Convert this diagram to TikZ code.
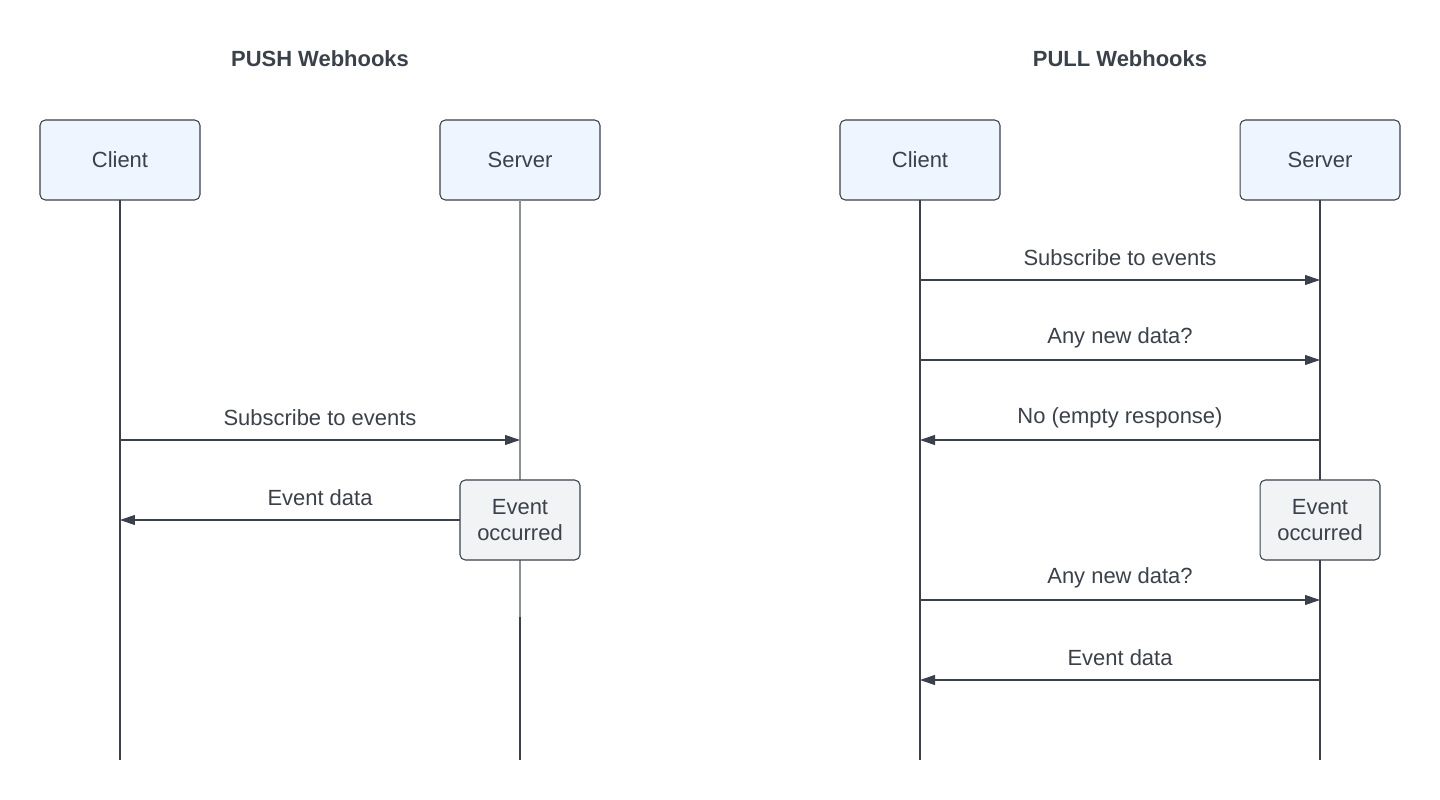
\documentclass[tikz,border=0pt]{standalone}
\usepackage{fontspec}
\setmainfont{Liberation Sans}
\usepackage{xcolor}
\usepackage{tikz}
\usetikzlibrary{arrows.meta, positioning, calc}
\definecolor{ink}{HTML}{3A414A}
\definecolor{lifegray}{HTML}{8C9198}
\definecolor{actorfill}{HTML}{EEF5FF}
\definecolor{eventfill}{HTML}{F2F3F5}

\begin{document}
\begin{tikzpicture}[
  x=0.02cm, y=-0.02cm,
  every node/.style={text=ink, font=\fontsize{12.5}{15}\selectfont},
  actor/.style={draw=ink, line width=0.6pt, fill=actorfill, rounded corners=3pt,
                minimum width=3.2cm, minimum height=1.6cm, inner sep=0pt, outer sep=0pt},
  event/.style={draw=ink, line width=0.6pt, fill=eventfill, rounded corners=3pt,
                minimum width=2.4cm, minimum height=1.6cm, inner sep=0pt, outer sep=0pt,
                align=center},
  title/.style={font=\fontsize{12.5}{15}\selectfont\bfseries},
  life/.style={draw=ink, line width=0.6pt},
  msg/.style={draw=ink, line width=0.6pt, -{Triangle[length=0.3cm, width=0.2cm]}},
  lbl/.style={midway, yshift=0.44cm},
]
\useasboundingbox (0,0) rectangle (1440,800);

% PUSH
\node[title] (pushttl) at (320,59) {PUSH Webhooks};
\node[actor] (cliA) at (120,160) {Client};
\node[actor] (srvA) at (520,160) {Server};
\coordinate (cliAend) at (120,760);
\coordinate (srvAmid) at (520,617);
\coordinate (srvAend) at (520,760);
\draw[life] (cliA.south) -- (cliAend);
\draw[life, draw=lifegray] (srvA.south) -- (srvAmid);
\draw[life] (srvAmid) -- (srvAend);

\coordinate (a1c) at (120,440); \coordinate (a1s) at (520,440);
\coordinate (a2c) at (120,520); \coordinate (a2s) at (520,520);
\draw[msg] (a1c) -- node[lbl] {Subscribe to events} (a1s);
\draw[msg] (a2s) -- node[lbl] {Event data} (a2c);
\node[event] (evA) at (520,520) {Event\\occurred};

% PULL
\node[title] (pullttl) at (1120,59) {PULL Webhooks};
\node[actor] (cliB) at (920,160) {Client};
\node[actor] (srvB) at (1320,160) {Server};
\coordinate (cliBend) at (920,760);
\coordinate (srvBend) at (1320,760);
\draw[life] (cliB.south) -- (cliBend);
\draw[life] (srvB.south) -- (srvBend);

\coordinate (b1c) at (920,280); \coordinate (b1s) at (1320,280);
\coordinate (b2c) at (920,360); \coordinate (b2s) at (1320,360);
\coordinate (b3c) at (920,440); \coordinate (b3s) at (1320,440);
\coordinate (b4c) at (920,600); \coordinate (b4s) at (1320,600);
\coordinate (b5c) at (920,680); \coordinate (b5s) at (1320,680);
\draw[msg] (b1c) -- node[lbl] {Subscribe to events} (b1s);
\draw[msg] (b2c) -- node[lbl] {Any new data?} (b2s);
\draw[msg] (b3s) -- node[lbl] {No (empty response)} (b3c);
\draw[msg] (b4c) -- node[lbl] {Any new data?} (b4s);
\draw[msg] (b5s) -- node[lbl] {Event data} (b5c);
\node[event] (evB) at (1320,520) {Event\\occurred};
\end{tikzpicture}
\end{document}
